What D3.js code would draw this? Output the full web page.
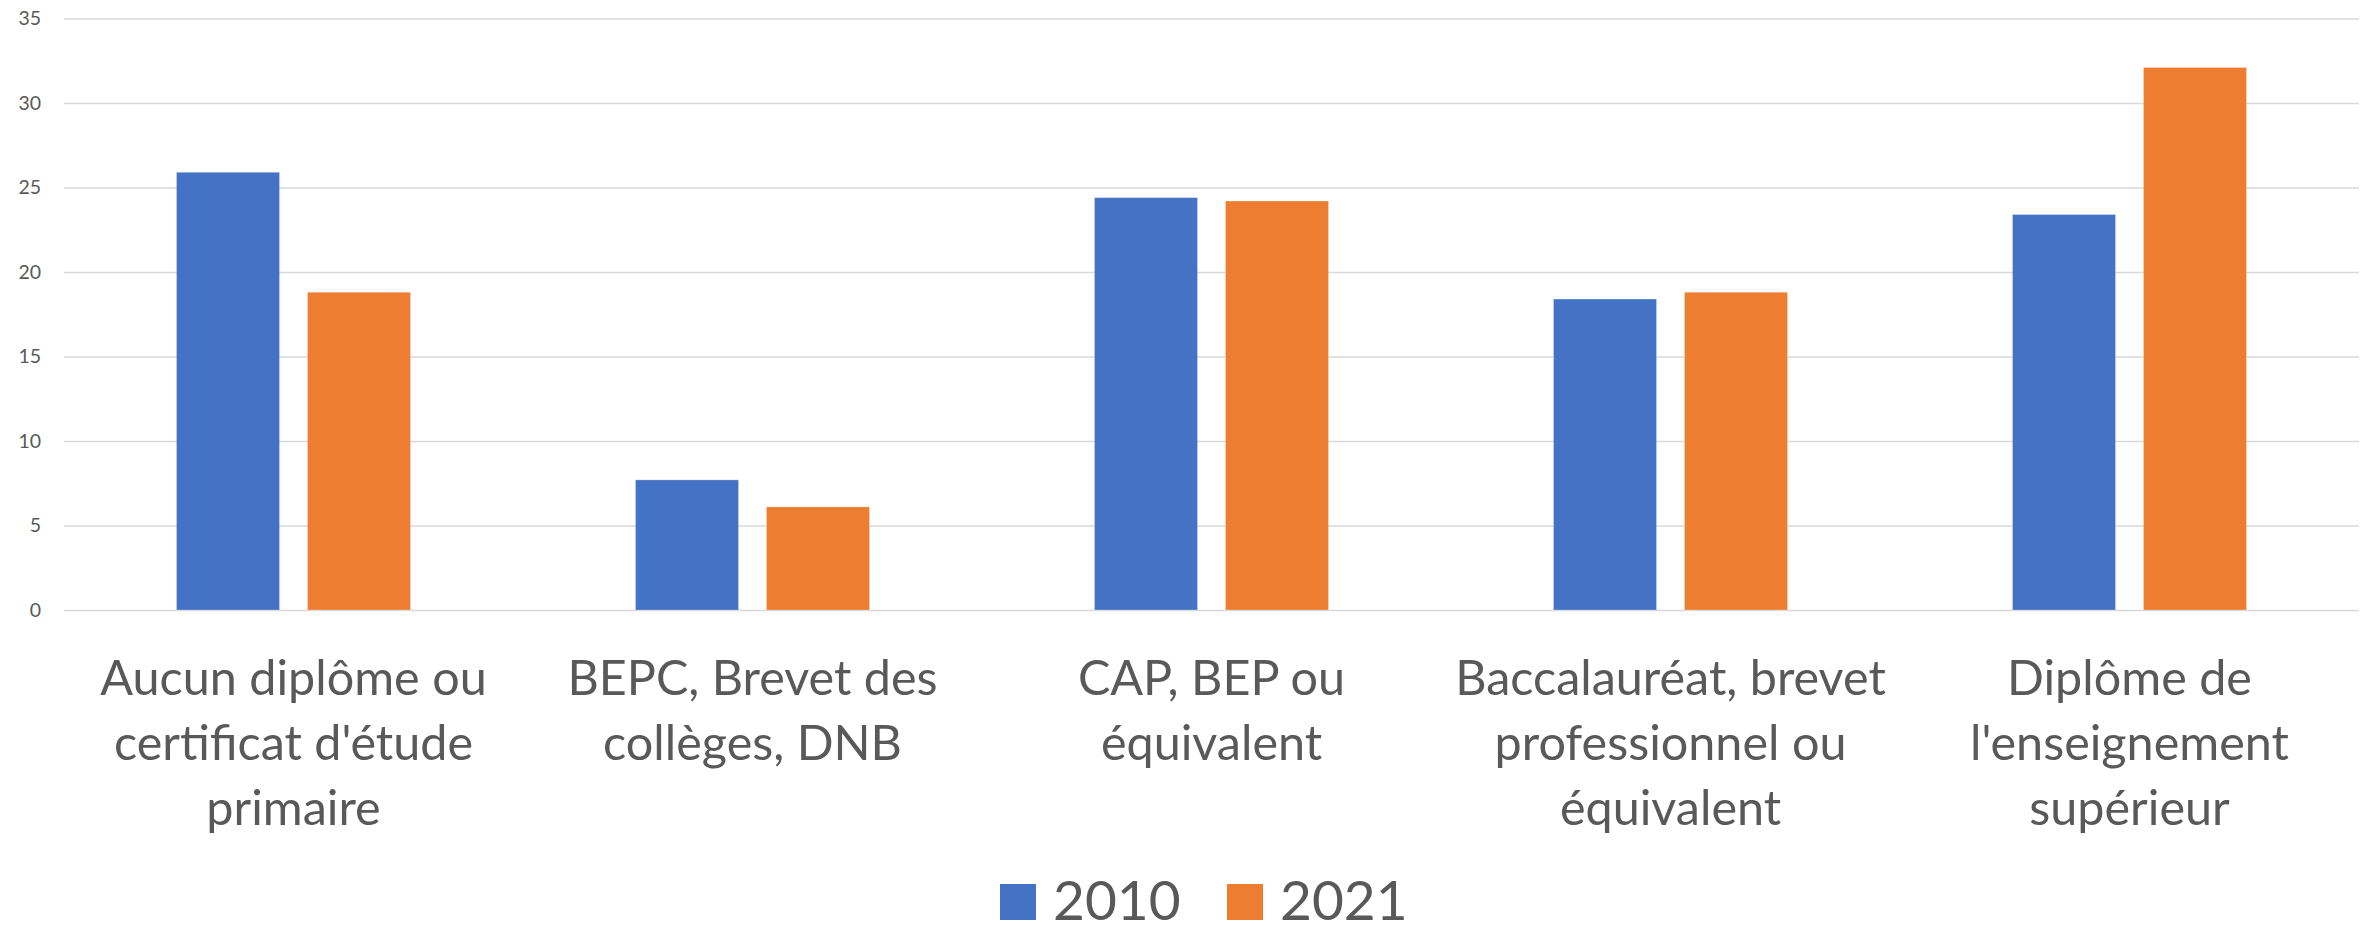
<!DOCTYPE html>
<html>
<head>
<meta charset="utf-8">
<script src="https://cdn.jsdelivr.net/npm/d3@7"></script>
<style>
  html, body { margin: 0; padding: 0; background: #ffffff; }
  svg { display: block; }
  text { font-family: Lato, "Open Sans", "Liberation Sans", sans-serif; fill: #595959; }
</style>
</head>
<body>
<svg id="chart" width="2367" height="926"></svg>
<script>
// ---- data ----
const categories = [
  ["Aucun diplôme ou", "certificat d'étude", "primaire"],
  ["BEPC, Brevet des", "collèges, DNB"],
  ["CAP, BEP ou", "équivalent"],
  ["Baccalauréat, brevet", "professionnel ou", "équivalent"],
  ["Diplôme de", "l'enseignement", "supérieur"]
];
const seriesNames = ["2010", "2021"];
const values2010 = [25.9, 7.7, 24.4, 18.4, 23.4];
const values2021 = [18.8, 6.1, 24.2, 18.8, 32.1];
const yTicks = [0, 5, 10, 15, 20, 25, 30, 35];
const colors = ["#4472C4", "#ED7D31"];

// ---- layout ----
const W = 2367, H = 926;
const plotLeft = 64, plotRight = 2359, plotTop = 18.5, plotBottom = 610;

const svg = d3.select("#chart");
const catIdx = categories.map((c, i) => i);

const x0 = d3.scaleBand().domain(catIdx).range([plotLeft, plotRight]).paddingInner(0).paddingOuter(0);
const x1 = d3.scaleBand().domain(seriesNames).range([0, x0.bandwidth()]).paddingInner(0.2137).paddingOuter(0.859);
const y = d3.scaleLinear().domain([0, 35]).range([plotBottom, plotTop]);
const color = d3.scaleOrdinal().domain(seriesNames).range(colors);

// gridlines + y axis labels via axis
const yAxis = d3.axisLeft(y).tickValues(yTicks).tickSize(-(plotRight - plotLeft)).tickPadding(23).tickFormat(d3.format("d"));
const gy = svg.append("g").attr("transform", `translate(${plotLeft},0)`).call(yAxis);
gy.select(".domain").remove();
gy.selectAll(".tick line").attr("stroke", "#d9d9d9").attr("stroke-width", 1.6);
gy.selectAll(".tick text").attr("font-size", 19.5).attr("fill", "#595959")
  .style("font-family", "Lato, 'Open Sans', sans-serif");

// bars
const data = catIdx.map(i => ({ i, vals: [values2010[i], values2021[i]] }));
const groups = svg.append("g").selectAll("g").data(data).join("g")
  .attr("transform", d => `translate(${x0(d.i)},0)`);
groups.selectAll("rect").data(d => seriesNames.map((s, k) => ({ s, v: d.vals[k] }))).join("rect")
  .attr("x", d => x1(d.s))
  .attr("y", d => y(d.v))
  .attr("width", x1.bandwidth())
  .attr("height", d => y(0) - y(d.v))
  .attr("fill", d => color(d.s))
  .attr("stroke", "#ffffff").attr("stroke-opacity", 0.25).attr("stroke-width", 1);

// x axis category labels (multi-line)
const xAxis = d3.axisBottom(x0).tickSize(0).tickFormat(() => "");
const gx = svg.append("g").attr("transform", `translate(0,${plotBottom})`).call(xAxis);
gx.select(".domain").remove();
gx.selectAll(".tick").each(function(d) {
  const t = d3.select(this).append("text")
    .attr("text-anchor", "middle")
    .attr("font-size", 48.5)
    .attr("fill", "#595959");
  categories[d].forEach((line, j) => {
    t.append("tspan").attr("x", 0).attr("y", 85 + j * 65).text(line);
  });
});

// legend
const legend = svg.append("g").attr("transform", "translate(1000,0)");
const legendOffsets = [0, 227];
seriesNames.forEach((s, k) => {
  const g = legend.append("g").attr("transform", `translate(${legendOffsets[k]},0)`);
  g.append("rect").attr("x", 0).attr("y", 884).attr("width", 36).attr("height", 36).attr("fill", color(s));
  g.append("text").attr("x", 53).attr("y", 920).attr("font-size", 55).attr("fill", "#595959").text(s);
});
</script>
</body>
</html>
